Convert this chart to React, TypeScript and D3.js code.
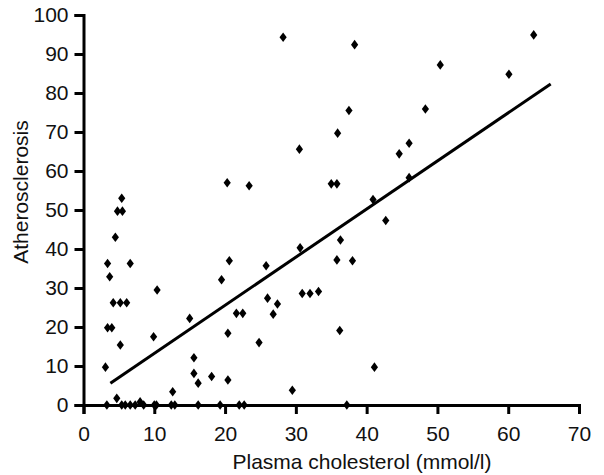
import * as d3 from "d3";
import { useRef, useEffect } from "react";

// cholesterol (x) and atherosclerosis (y) per animal
const cholesterol = [
  3.4, 3.7, 3.4, 4.0, 3.1, 4.2, 5.2, 6.1, 4.5, 4.8, 5.5, 5.4, 5.2, 6.6, 4.7,
  9.9, 10.4, 12.6, 15.0, 15.6, 15.6, 16.2, 18.1, 19.5, 20.3, 20.6, 20.4, 20.4,
  21.6, 22.5, 23.4, 24.8, 25.8, 26.0, 26.8, 27.4, 28.2, 29.5, 30.5, 30.6, 30.9,
  32.0, 33.2, 35.0, 35.8, 35.9, 35.8, 36.3, 36.2, 37.5, 38.0, 38.3, 40.9, 41.1,
  42.7, 44.6, 46.0, 46.0, 48.3, 50.4, 60.1, 63.6,
  // animals without lesions
  3.3, 5.4, 5.9, 6.6, 7.3, 8.0, 8.5, 10.0, 10.3, 12.4, 12.9, 16.2, 19.3, 22.0,
  22.7, 37.2,
];
const atherosclerosis = [
  36.3, 32.9, 19.8, 19.8, 9.7, 26.2, 26.2, 26.2, 43.0, 49.7, 49.7, 53.0, 15.4,
  36.3, 1.7, 17.5, 29.5, 3.4, 22.2, 12.1, 8.1, 5.6, 7.3, 32.1, 57.0, 37.0, 18.4,
  6.4, 23.5, 23.5, 56.2, 16.0, 35.7, 27.4, 23.3, 25.9, 94.3, 3.8, 65.6, 40.3,
  28.6, 28.6, 29.1, 56.7, 56.7, 69.7, 37.2, 42.3, 19.1, 75.5, 37.0, 92.4, 52.7,
  9.7, 47.3, 64.4, 67.1, 58.3, 75.9, 87.2, 84.8, 94.9,
  0, 0, 0, 0, 0, 0.8, 0, 0, 0, 0, 0, 0, 0, 0, 0, 0,
];

// regression line end points
const fitX = [3.8, 66];
const fitY = [5.6, 82.3];

const xTicks = [0, 10, 20, 30, 40, 50, 60, 70];
const yTicks = [0, 10, 20, 30, 40, 50, 60, 70, 80, 90, 100];

export default function App() {
  const svgRef = useRef<SVGSVGElement>(null);

  useEffect(() => {
    const svg = d3.select(svgRef.current);
    svg.selectAll("*").remove();

    const font = "'Liberation Sans', Arial, sans-serif";

    const x = d3.scaleLinear().domain([0, 70]).range([83.5, 579]);
    const y = d3.scaleLinear().domain([0, 100]).range([405, 15]);

    // y axis
    const gy = svg.append("g").attr("transform", `translate(${x(0)},0)`)
      .call(d3.axisLeft(y).tickValues(yTicks).tickSizeOuter(0).tickSize(9).tickPadding(6));
    // x axis
    const gx = svg.append("g").attr("transform", `translate(0,${y(0)})`)
      .call(d3.axisBottom(x).tickValues(xTicks).tickSizeOuter(0).tickSize(9).tickPadding(12));

    [gx, gy].forEach(g => {
      g.select(".domain").attr("stroke", "#000").attr("stroke-width", 3);
      g.selectAll(".tick line").attr("stroke", "#000").attr("stroke-width", 3);
      g.selectAll(".tick text")
        .attr("fill", "#111")
        .style("font-family", font)
        .style("font-size", "21px");
    });

    // regression line
    const line = d3.line<number>().x(d => x(fitX[d])).y(d => y(fitY[d]));
    svg.append("path")
      .attr("d", line([0, 1]))
      .attr("fill", "none")
      .attr("stroke", "#000")
      .attr("stroke-width", 3);

    // diamonds
    const diamond = "M0,-4.8L3.6,0L0,4.8L-3.6,0Z";
    svg.append("g").selectAll("path")
      .data(d3.range(cholesterol.length))
      .enter()
      .append("path")
      .attr("d", diamond)
      .attr("transform", i => `translate(${x(cholesterol[i])},${y(atherosclerosis[i])})`)
      .attr("fill", "#000");

    // axis titles
    svg.append("text")
      .attr("x", 362)
      .attr("y", 469)
      .attr("text-anchor", "middle")
      .attr("fill", "#111")
      .style("font-family", font)
      .style("font-size", "21px")
      .text("Plasma cholesterol (mmol/l)");

    svg.append("text")
      .attr("transform", "translate(28,192) rotate(-90)")
      .attr("text-anchor", "middle")
      .attr("fill", "#111")
      .style("font-family", font)
      .style("font-size", "21px")
      .text("Atherosclerosis");
  }, []);

  return (
    <svg
      ref={svgRef}
      width={604}
      height={475}
      style={{ position: "absolute", left: 0, top: 0, background: "#fff" }}
    />
  );
}
